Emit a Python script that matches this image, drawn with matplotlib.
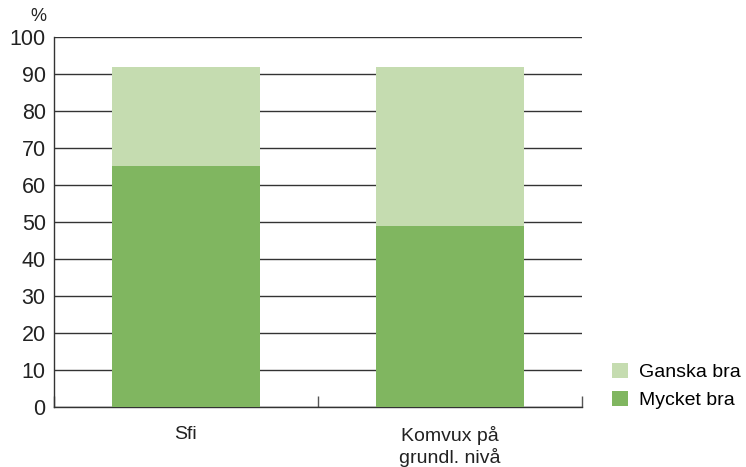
import matplotlib.pyplot as plt
import numpy as np

plt.rcParams['font.family'] = ['Liberation Sans', 'DejaVu Sans']

categories = ['Sfi', 'Komvux på\ngrundl. nivå']
mycket_bra = [65, 49]
ganska_bra = [27, 43]

dark_green = '#80b660'
light_green = '#c5dcb0'

fig = plt.figure(figsize=(7.46, 4.67), dpi=100)
ax = fig.add_axes([0.0724, 0.1285, 0.7076, 0.7923])

x = np.arange(len(categories))
ax.bar(x, mycket_bra, width=0.56, color=dark_green, label='Mycket bra', zorder=3)
ax.bar(x, ganska_bra, width=0.56, bottom=mycket_bra, color=light_green,
       label='Ganska bra', zorder=3)

ax.set_xlim(-0.5, 1.5)
ax.set_ylim(0, 100)
ax.set_yticks(range(0, 101, 10))
ax.yaxis.grid(True, color='#333333', linewidth=1.0, zorder=1)
ax.set_axisbelow(True)
ax.tick_params(axis='y', length=0, labelsize=15.5, pad=6, colors='#222222')

ax.set_xticks(x)
ax.set_xticklabels(categories, fontsize=14, color='#222222', linespacing=1.2)
ax.tick_params(axis='x', which='major', length=0, pad=14)
ax.set_xticks([-0.5, 0.5, 1.5], minor=True)
ax.tick_params(axis='x', which='minor', direction='in', length=8, width=1, color='#555555')

for s in ['top', 'right']:
    ax.spines[s].set_visible(False)
for s in ['left', 'bottom']:
    ax.spines[s].set_color('#333333')
    ax.spines[s].set_linewidth(1.0)

fig.text(0.051, 0.965, '%', fontsize=13, ha='center', va='center', color='#222222')

handles, labels = ax.get_legend_handles_labels()
ax.legend(handles[::-1], labels[::-1], loc='lower left', bbox_to_anchor=(1.057, -0.005),
          frameon=False, fontsize=14, handlelength=0.8, handleheight=0.8,
          handletextpad=0.6, labelspacing=0.5, borderaxespad=0, borderpad=0)

fig.savefig('out.png', dpi=100)
